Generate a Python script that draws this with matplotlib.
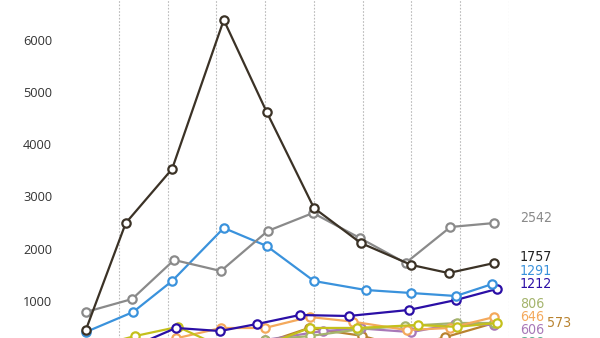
import matplotlib.pyplot as plt
from matplotlib import font_manager

# time positions (grid line k sits at k) and values
dark_x = [0.32, 1.14, 2.09, 3.15, 4.03, 5.00, 5.96, 7.00, 7.76, 8.70]
dark_y = [440, 2490, 3525, 6380, 4617, 2778, 2107, 1686, 1532, 1724]

gray_x = [0.32, 1.27, 2.13, 3.09, 4.05, 4.98, 5.94, 6.88, 7.80, 8.70]
gray_y = [785, 1034, 1782, 1571, 2337, 2682, 2203, 1724, 2414, 2490]

blue_x = [0.32, 1.29, 2.09, 3.15, 4.03, 5.00, 6.06, 7.00, 7.91, 8.66]
blue_y = [402, 785, 1379, 2395, 2050, 1379, 1207, 1149, 1092, 1322]

navy_x = [0.32, 1.23, 2.17, 3.07, 3.83, 4.71, 5.71, 6.94, 7.91, 8.75]
navy_y = [200, 100, 480, 421, 555, 728, 709, 824, 1015, 1226]

orange_x = [0.32, 1.25, 2.17, 3.09, 3.99, 4.91, 5.80, 6.90, 7.78, 8.70]
orange_y = [50, 120, 280, 479, 479, 690, 600, 440, 479, 690]

yellow_x = [0.32, 1.33, 2.21, 3.10, 4.00, 4.91, 5.88, 7.13, 7.93, 8.75]
yellow_y = [80, 325, 500, 120, 150, 480, 480, 536, 500, 575]

olive_x = [0.32, 1.25, 2.15, 3.10, 4.00, 4.91, 5.90, 6.86, 7.93, 8.70]
olive_y = [60, 100, 150, 200, 250, 325, 450, 517, 575, 575]

purple_x = [0.32, 1.25, 2.15, 3.10, 4.00, 5.18, 5.96, 7.00, 7.89, 8.70]
purple_y = [40, 80, 120, 180, 250, 420, 470, 400, 555, 536]

brown_x = [0.32, 1.25, 2.15, 3.10, 3.85, 4.90, 5.98, 6.90, 7.68, 8.70]
brown_y = [30, 60, 100, 150, 150, 480, 330, 100, 300, 575]

teal_x = [0.32, 1.25, 2.15, 3.10, 4.00, 4.91, 5.90, 6.90, 7.90, 8.70]
teal_y = [20, 40, 60, 80, 100, 120, 150, 180, 200, 180]

# end labels: text, y anchor (value), x position
end_labels = ["2542", "1757", "1291", "1212", "806", "646", "606", "573", "388"]
end_label_y = [2586, 1830, 1580, 1325, 939, 690, 440, 575, 190]
end_label_x = [9.22, 9.22, 9.22, 9.22, 9.22, 9.22, 9.22, 9.78, 9.22]

y_ticks = [1000, 2000, 3000, 4000, 5000, 6000]


def pick_font(names):
    have = {f.name for f in font_manager.fontManager.ttflist}
    for n in names:
        if n in have:
            return n
    return "DejaVu Sans"


def main():
    fig = plt.figure(figsize=(6, 3.38), dpi=100)
    ax = fig.add_axes([0.117, -0.0444, 0.7313, 1.0444])

    series = [
        (teal_x, teal_y, "#5fae92"),
        (brown_x, brown_y, "#b8822f"),
        (purple_x, purple_y, "#a878b8"),
        (olive_x, olive_y, "#a4b46c"),
        (orange_x, orange_y, "#f4a95c"),
        (yellow_x, yellow_y, "#c4c01c"),
        (navy_x, navy_y, "#2b0fa6"),
        (blue_x, blue_y, "#3a92dc"),
        (gray_x, gray_y, "#8a8a8a"),
        (dark_x, dark_y, "#3b3226"),
    ]
    for xs, ys, c in series:
        ax.plot(xs, ys, color=c, lw=1.6, marker="o", ms=6.0,
                mfc="white", mec=c, mew=1.6)

    label_colors = ["#8a8a8a", "#222222", "#3a92dc", "#2b0fa6", "#a4b46c",
                    "#f4a95c", "#a878b8", "#b8822f", "#5fae92"]
    narrow = pick_font(["Liberation Sans Narrow", "DejaVu Sans"])
    for t, y, x, c in zip(end_labels, end_label_y, end_label_x, label_colors):
        ax.text(x, y, t, color=c, fontsize=10.2, family=narrow,
                fontstretch="condensed", va="center", ha="left", clip_on=False)

    ax.set_xlim(0, 9)
    ax.set_ylim(0, 6762)
    ax.set_xticks(range(1, 10))
    ax.set_xticklabels([])
    ax.set_yticks(y_ticks)
    ax.set_yticklabels([str(v) for v in y_ticks], fontsize=9.2,
                       color="#333333", family=pick_font(["Open Sans", "DejaVu Sans"]))
    ax.tick_params(axis="both", length=0)
    ax.tick_params(axis="y", pad=13)
    ax.grid(axis="x", color="#bbbbbb", lw=0.8, ls=(0, (1.5, 1.5)))
    for s in ax.spines.values():
        s.set_visible(False)

    fig.savefig("out.png", dpi=100)


if __name__ == "__main__":
    main()
